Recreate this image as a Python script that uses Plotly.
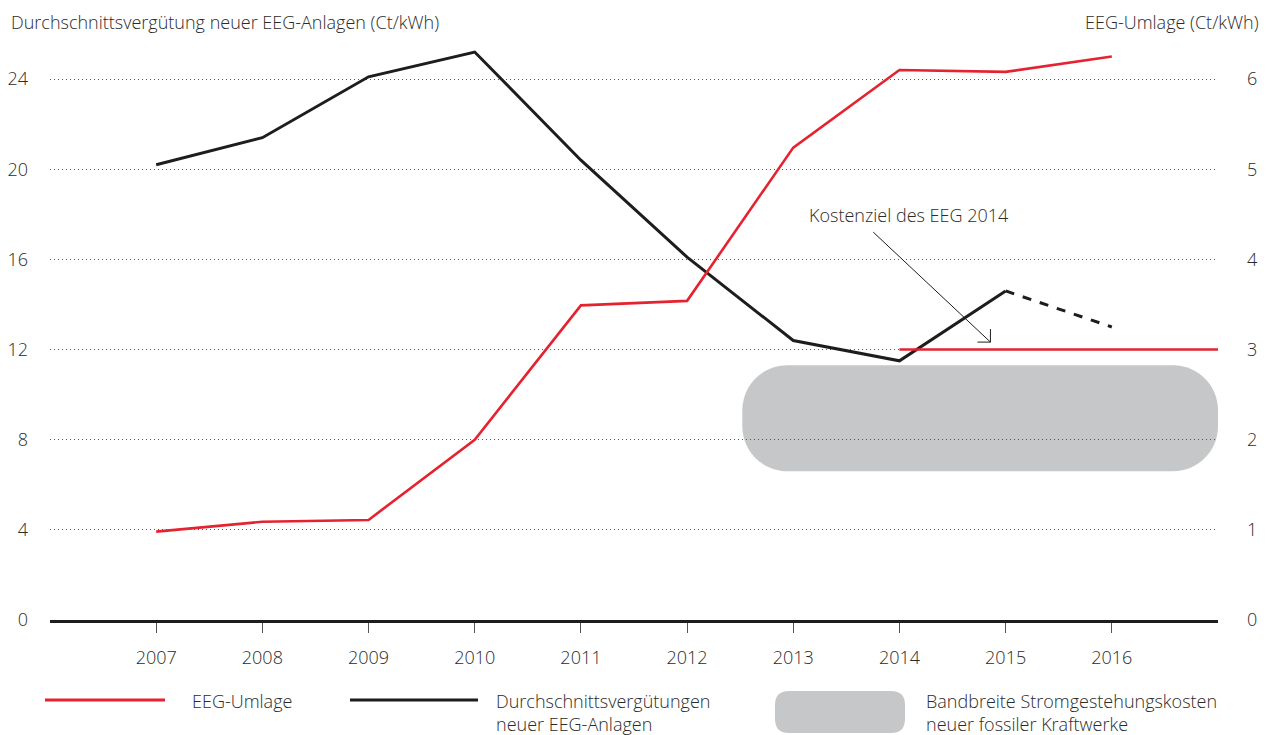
import plotly.graph_objects as go

# ---- data ----
years = [2007, 2008, 2009, 2010, 2011, 2012, 2013, 2014, 2015, 2016]
eeg_umlage = [0.98, 1.09, 1.11, 2.00, 3.49, 3.54, 5.24, 6.10, 6.08, 6.25]          # right axis, Ct/kWh
verg_years = [2007, 2008, 2009, 2010, 2011, 2012, 2013, 2014, 2015]
verguetung = [20.2, 21.4, 24.1, 25.2, 20.4, 16.1, 12.4, 11.5, 14.6]                 # left axis, Ct/kWh
verg_forecast_years = [2015, 2016]
verg_forecast = [14.6, 13.0]
kostenziel_years = [2014, 2017]
kostenziel = [3.0, 3.0]                                                              # right axis
band_years = [2012.52, 2017.0]
band_low, band_high = 6.6, 11.3                                                      # left axis

left_ticks = [0, 4, 8, 12, 16, 20, 24]
right_ticks = [0, 1, 2, 3, 4, 5, 6]

RED = "#e52330"
BLACK = "#1d1d1b"
GRAY = "#c6c7c9"
TXT = "#2b2b2b"
FONT = "Open Sans"

W, H = 1275, 735
ML, MR, MT, MB = 50, 57, 34, 115
PW, PH = W - ML - MR, H - MT - MB


def px(x):
    return (x - ML) / PW


def py(y):
    return (H - MB - y) / PH


fig = go.Figure()

fig.add_trace(go.Scatter(x=years, y=eeg_umlage, yaxis="y2", mode="lines",
                         line=dict(color=RED, width=2.6), name="EEG-Umlage"))
fig.add_trace(go.Scatter(x=kostenziel_years, y=kostenziel, yaxis="y2", mode="lines",
                         line=dict(color=RED, width=2.6), name="Kostenziel"))
fig.add_trace(go.Scatter(x=verg_years, y=verguetung, mode="lines",
                         line=dict(color=BLACK, width=3), name="Durchschnittsvergütungen"))
fig.add_trace(go.Scatter(x=verg_forecast_years, y=verg_forecast, mode="lines",
                         line=dict(color=BLACK, width=3, dash="dash"), name="Prognose"))

# rounded band (data coords)
x0, x1 = band_years
y0, y1 = band_low, band_high
rx = 45 / (PW / 11.0)
ry = 45 / (PH / 26.0)
k = 0.5523
path = (f"M {x0+rx},{y0} L {x1-rx},{y0} "
        f"C {x1-rx+k*rx},{y0} {x1},{y0+ry-k*ry} {x1},{y0+ry} "
        f"L {x1},{y1-ry} "
        f"C {x1},{y1-ry+k*ry} {x1-rx+k*rx},{y1} {x1-rx},{y1} "
        f"L {x0+rx},{y1} "
        f"C {x0+rx-k*rx},{y1} {x0},{y1-ry+k*ry} {x0},{y1-ry} "
        f"L {x0},{y0+ry} "
        f"C {x0},{y0+ry-k*ry} {x0+rx-k*rx},{y0} {x0+rx},{y0} Z")
shapes = [dict(type="path", path=path, xref="x", yref="y", fillcolor=GRAY,
               line=dict(width=0), layer="below")]

# annotation arrow (thin line with open head)
tip_x, tip_y = 2014.857, 12.33
tail_x, tail_y = 2013.753, 17.21
shapes.append(dict(type="line", xref="x", yref="y", x0=tail_x, y0=tail_y, x1=tip_x, y1=tip_y,
                   line=dict(color=BLACK, width=1)))
shapes.append(dict(type="line", xref="x", yref="y", xsizemode="pixel", xanchor=tip_x,
                   x0=-13, x1=0, y0=tip_y, y1=tip_y, line=dict(color=BLACK, width=1)))
shapes.append(dict(type="line", xref="x", yref="y", ysizemode="pixel", yanchor=tip_y,
                   x0=tip_x, x1=tip_x, y0=13, y1=0, line=dict(color=BLACK, width=1)))

# legend (manual)
ly = 700
shapes.append(dict(type="line", xref="paper", yref="paper", x0=px(45), x1=px(165), y0=py(ly), y1=py(ly),
                   line=dict(color=RED, width=3)))
shapes.append(dict(type="line", xref="paper", yref="paper", x0=px(350), x1=px(478), y0=py(ly), y1=py(ly),
                   line=dict(color=BLACK, width=3)))
lx0, lx1, ly0, ly1, r = 775, 905, 691, 733, 14
pth = (f"M {px(lx0+r)},{py(ly0)} L {px(lx1-r)},{py(ly0)} Q {px(lx1)},{py(ly0)} {px(lx1)},{py(ly0+r)} "
       f"L {px(lx1)},{py(ly1-r)} Q {px(lx1)},{py(ly1)} {px(lx1-r)},{py(ly1)} "
       f"L {px(lx0+r)},{py(ly1)} Q {px(lx0)},{py(ly1)} {px(lx0)},{py(ly1-r)} "
       f"L {px(lx0)},{py(ly0+r)} Q {px(lx0)},{py(ly0)} {px(lx0+r)},{py(ly0)} Z")
shapes.append(dict(type="path", path=pth, xref="paper", yref="paper", fillcolor=GRAY, line=dict(width=0)))

fnt = dict(family=FONT, size=18, color=TXT, weight=300)
tfnt = dict(family=FONT, size=18, color=TXT, weight=300)
annotations = [
    dict(text="Durchschnittsvergütung neuer EEG-Anlagen (Ct/kWh)", xref="paper", yref="paper",
         x=px(9), y=py(22), xanchor="left", yanchor="middle", showarrow=False, font=fnt),
    dict(text="EEG-Umlage (Ct/kWh)", xref="paper", yref="paper",
         x=px(1261), y=py(22), xanchor="right", yanchor="middle", showarrow=False, font=fnt),
    dict(text="Kostenziel des EEG 2014", xref="x", yref="y", x=2013.13, y=17.97,
         xanchor="left", yanchor="middle", showarrow=False, font=fnt),
    dict(text="EEG-Umlage", xref="paper", yref="paper", x=px(190), y=py(701),
         xanchor="left", yanchor="middle", showarrow=False, font=fnt),
    dict(text="Durchschnittsvergütungen<br>neuer EEG-Anlagen", xref="paper", yref="paper",
         x=px(494), y=py(712), xanchor="left", yanchor="middle", align="left", showarrow=False, font=fnt),
    dict(text="Bandbreite Stromgestehungskosten<br>neuer fossiler Kraftwerke", xref="paper", yref="paper",
         x=px(924), y=py(712), xanchor="left", yanchor="middle", align="left", showarrow=False, font=fnt),
]

fig.update_layout(
    width=W, height=H,
    margin=dict(l=ML, r=MR, t=MT, b=MB, autoexpand=False),
    paper_bgcolor="white", plot_bgcolor="white",
    showlegend=False,
    font=fnt,
    shapes=shapes,
    annotations=annotations,
    xaxis=dict(range=[2006, 2017], tickvals=years, ticktext=[str(y) for y in years],
               showgrid=False, zeroline=False, showline=True, linecolor=BLACK, linewidth=3,
               ticks="outside", ticklen=10, tickcolor="#555", tickwidth=1, automargin=False,
               ticklabelstandoff=9, tickfont=tfnt),
    yaxis=dict(range=[0, 26], tickvals=left_ticks, showgrid=True, gridcolor="#555",
               griddash="1px,3px", gridwidth=1, zeroline=False, showline=False, ticks="",
               automargin=False, ticklabelstandoff=21, tickfont=tfnt),
    yaxis2=dict(range=[0, 6.5], tickvals=right_ticks, overlaying="y", side="right",
                showgrid=False, zeroline=False, showline=False, ticks="", automargin=False,
                ticklabelstandoff=28, tickfont=tfnt),
)

fig.write_html("out.html", config={"displayModeBar": False},
               post_script="document.body.style.margin='0px';")
